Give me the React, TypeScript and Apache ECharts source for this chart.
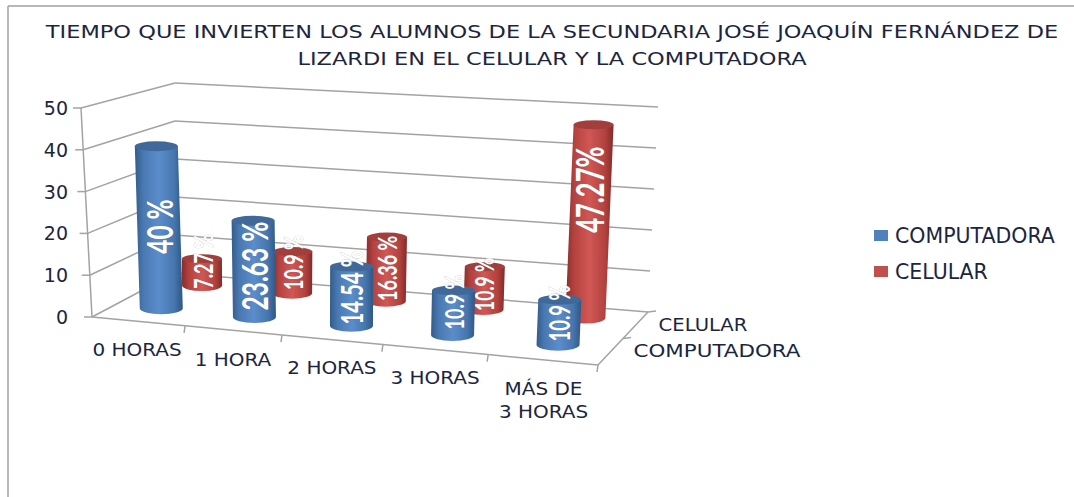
import React, { useEffect, useRef } from "react";
import * as echarts from "echarts";

const titleText = "TIEMPO QUE INVIERTEN LOS ALUMNOS DE LA SECUNDARIA JOSÉ JOAQUÍN FERNÁNDEZ DE\nLIZARDI EN EL CELULAR Y LA COMPUTADORA";
const categories = ["0 HORAS", "1 HORA", "2 HORAS", "3 HORAS", "MÁS DE\n3 HORAS"];
const yTicks = [0, 10, 20, 30, 40, 50];
const depthLabels = ["COMPUTADORA", "CELULAR"];
const computadora = [40, 23.63, 14.54, 10.9, 10.9];
const celular = [7.27, 10.9, 16.36, 10.9, 47.27];
const computadoraLabels = ["40 %", "23.63 %", "14.54 %", "10.9 %", "10.9 %"];
const celularLabels = ["7.27 %", "10.9 %", "16.36 %", "10.9 %", "47.27%"];

const computadoraFont = [24.5, 24.5, 20.5, 18, 18.5];
const celularFont = [18, 18, 18, 17.5, 25.5];
const computadoraShift = [0, -2, -8, -10, -8];
const celularShift = [-10, -9, 0, -3, -31];
const categoryDx = [-1, 0, 0, 0, 1];
const categoryDy = [28, 29, 28, 28, 40];
const depthScale = [1.19, 1.09];

const GL = 92, GT = 108, GW = 506, GH = 209;
const FONT = "'DejaVu Sans'";
const TEXT = "#1c2540";
const LINE = "#a3a3a3";

type P = [number, number];
const F0: P = [92, 317], F1: P = [598, 365], B0: P = [175, 273], B1: P = [648, 312];
const TF0: P = [81, 108], TF1: P = [608, 147], TB0: P = [175, 83], TB1: P = [658, 107];
const lerp = (a: P, b: P, t: number): P => [a[0] + (b[0] - a[0]) * t, a[1] + (b[1] - a[1]) * t];

// floor/height fractions -> screen, with the perspective foreshortening of the categories
function project(fx: number, depth: number, fy: number): P {
  const f = fx / (fx + 1.109 * (1 - fx));
  const bottom = lerp(lerp(F0, F1, f), lerp(B0, B1, f), depth);
  const top = lerp(lerp(TF0, TF1, f), lerp(TB0, TB1, f), depth);
  return lerp(bottom, top, fy);
}
const plane = (pt: number[]) => ({ fx: (pt[0] - GL) / GW, fy: (GT + GH - pt[1]) / GH });
const line = (a: P, b: P, w = 1.5) => ({
  type: "line",
  shape: { x1: a[0], y1: a[1], x2: b[0], y2: b[1] },
  style: { stroke: LINE, lineWidth: w },
  silent: true,
});

const BLUE = { stops: ["#335c8c", "#4a79b1", "#5b8dcc", "#4576ad", "#2e5785"], cap: "#40699a", name: "#4f81bd" };
const RED = { stops: ["#862d2b", "#b5423f", "#d05754", "#b3423f", "#812b29"], cap: "#a23f3c", name: "#c0504d" };

function cylinder(depth: number, rx: number, ry: number, pal: typeof BLUE, texts: string[], fonts: number[], shifts: number[]) {
  return (_: any, api: any) => {
    const i = api.value(0);
    const v = api.value(1);
    const { fx, fy } = plane(api.coord([i, v]));
    const b = project(fx, depth, 0);
    const t = project(fx, depth, fy);
    const ty = t[1] + 1.5;
    const capRy = ry - 1;
    const body =
      `M${t[0] - rx} ${ty} L${b[0] - rx} ${b[1]} A${rx} ${ry} 0 0 0 ${b[0] + rx} ${b[1]} L${t[0] + rx} ${ty} Z`;
    const cap = `M${t[0] - rx} ${ty} A${rx} ${capRy} 0 0 1 ${t[0] + rx} ${ty} A${rx} ${capRy} 0 0 1 ${t[0] - rx} ${ty} Z`;
    return {
      type: "group",
      children: [
        {
          type: "path",
          shape: { pathData: body },
          style: {
            fill: {
              type: "linear", x: 0, y: 0, x2: 1, y2: 0,
              colorStops: pal.stops.map((color, k) => ({ offset: [0, 0.18, 0.5, 0.82, 1][k], color })),
            },
          },
        },
        { type: "path", shape: { pathData: cap }, style: { fill: pal.cap } },
        {
          type: "text",
          x: (t[0] + b[0]) / 2,
          y: (t[1] + b[1]) / 2 + shifts[i],
          rotation: Math.PI / 2,
          scaleY: 1.5,
          style: {
            text: texts[i],
            fill: "#ffffff",
            font: `bold ${fonts[i]}px Lato`,
            align: "center",
            verticalAlign: "middle",
            stroke: "rgba(120,120,120,0.4)",
            lineWidth: 0.6,
          },
        },
      ],
    };
  };
}

function wallItem(_: any, api: any) {
  const { fy } = plane(api.coord([0, api.value(1)]));
  const front = project(0, 0, fy);
  const corner = project(0, 1, fy);
  const right = project(1, 1, fy);
  return {
    type: "group",
    children: [line([front[0] - 8, front[1]], front), line(front, corner), line(corner, right)],
  };
}

function floorItem(_: any, api: any) {
  const i = api.value(0);
  const { fx } = plane(api.coord([i, 0]));
  const edge = 1 / categories.length;
  const a = project(fx - edge / 2, 0, 0);
  const b = project(fx + edge / 2, 0, 0);
  const mid = project(fx, 0, 0);
  return {
    type: "group",
    children: [
      line(a, b),
      line(b, [b[0] - 1, b[1] + 7]),
      {
        type: "text",
        x: mid[0] + categoryDx[i],
        y: mid[1] + categoryDy[i],
        scaleX: 1.11,
        style: {
          text: categories[i],
          fill: TEXT,
          font: `18px ${FONT}`,
          align: "center",
          verticalAlign: "middle",
          lineHeight: 23,
        },
      },
    ],
  };
}

function sideItem(_: any, api: any) {
  const k = api.value(0);
  const d0 = k / depthLabels.length;
  const d1 = (k + 1) / depthLabels.length;
  const a = project(1, d0, 0);
  const b = project(1, d1, 0);
  const tickEnd: P = [b[0] + 8, b[1] - 1];
  const labelAnchor: P[] = [[717, 351], [703, 325]];
  return {
    type: "group",
    children: [
      line(a, b),
      line(b, tickEnd),
      {
        type: "text",
        x: labelAnchor[k][0],
        y: labelAnchor[k][1],
        scaleX: depthScale[k],
        style: {
          text: depthLabels[k],
          fill: TEXT,
          font: `18px ${FONT}`,
          align: "center",
          verticalAlign: "middle",
        },
      },
    ],
  };
}

function axisItem() {
  return { type: "group", children: [line(project(0, 0, 0), project(0, 0, 1))] };
}

export default function App() {
  const ref = useRef<HTMLDivElement>(null);
  useEffect(() => {
    document.body.style.margin = "0";
    const chart = echarts.init(ref.current!, undefined, { renderer: "svg" });
    chart.setOption({
      animation: false,
      backgroundColor: "#ffffff",
      color: [BLUE.name, RED.name],
      legend: {
        orient: "vertical",
        left: 874,
        top: 225,
        padding: 0,
        itemWidth: 14,
        itemHeight: 11,
        itemGap: 15,
        data: [
          { name: "COMPUTADORA", icon: "rect", itemStyle: { color: BLUE.name } },
          { name: "CELULAR", icon: "rect", itemStyle: { color: RED.name } },
        ],
        textStyle: { fontFamily: FONT, fontSize: 20.5, color: TEXT, padding: [0, 0, 0, 2] },
      },
      grid: { left: GL, top: GT, width: GW, height: GH },
      xAxis: { type: "category", data: categories, show: false },
      yAxis: {
        type: "value",
        min: 0,
        max: 50,
        interval: 10,
        axisLine: { show: false },
        axisTick: { show: false },
        splitLine: { show: false },
        axisLabel: { margin: 24, fontFamily: FONT, fontSize: 19, color: TEXT },
      },
      graphic: [
        { type: "line", shape: { x1: 8, y1: 6, x2: 1074, y2: 6 }, style: { stroke: "#a0a0a0", lineWidth: 1.5 } },
        { type: "line", shape: { x1: 8, y1: 6, x2: 8, y2: 497 }, style: { stroke: "#a0a0a0", lineWidth: 1.5 } },
        {
          type: "text",
          x: 552,
          y: 45.5,
          scaleX: 1.249,
          style: {
            text: titleText,
            fill: TEXT,
            font: `18px ${FONT}`,
            align: "center",
            verticalAlign: "middle",
            lineHeight: 27,
          },
        },
      ],
      series: [
        { type: "custom", name: "pared", silent: true, data: yTicks.map((t) => [0, t]), encode: { x: 0, y: 1 }, renderItem: wallItem },
        { type: "custom", name: "eje", silent: true, data: [[0, 0]], encode: { x: 0, y: 1 }, renderItem: axisItem },
        { type: "custom", name: "piso", silent: true, data: categories.map((_, i) => [i, 0]), encode: { x: 0, y: 1 }, renderItem: floorItem },
        { type: "custom", name: "lado", silent: true, data: depthLabels.map((_, i) => [i, 0]), encode: { x: 0, y: 1 }, renderItem: sideItem },
        {
          type: "custom",
          name: "CELULAR",
          data: celular.map((v, i) => [i, v]),
          encode: { x: 0, y: 1 },
          renderItem: cylinder(0.8, 20, 5.5, RED, celularLabels, celularFont, celularShift),
        },
        {
          type: "custom",
          name: "COMPUTADORA",
          data: computadora.map((v, i) => [i, v]),
          encode: { x: 0, y: 1 },
          renderItem: cylinder(0.29, 21.5, 6, BLUE, computadoraLabels, computadoraFont, computadoraShift),
        },
      ],
    });
    return () => chart.dispose();
  }, []);
  return <div ref={ref} style={{ width: 1074, height: 497 }} />;
}
